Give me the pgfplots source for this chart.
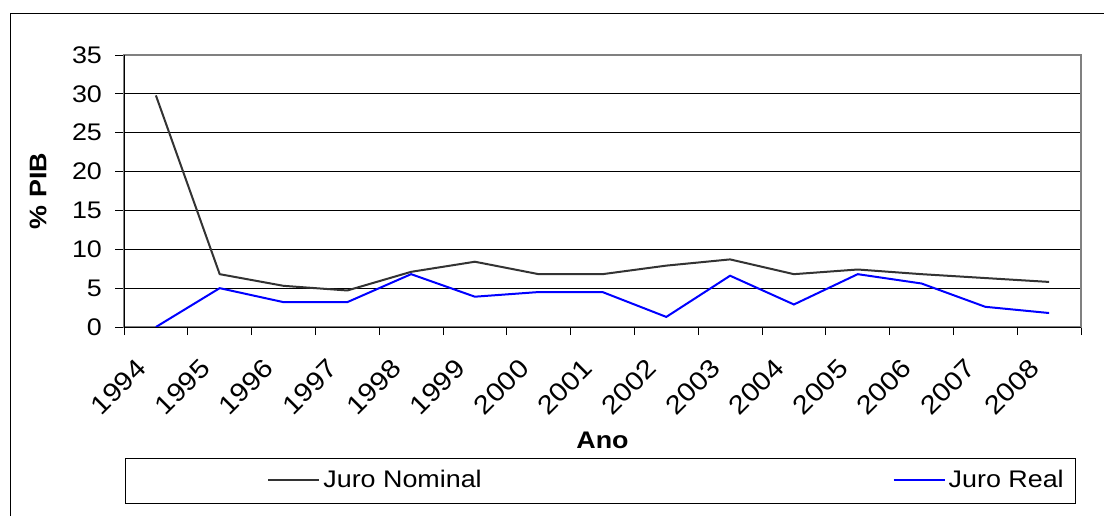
\documentclass[border=0pt]{standalone}
\usepackage{fontspec}
\setmainfont{Liberation Sans}[FakeStretch=1.12]
\usepackage{pgfplots}
\pgfplotsset{compat=1.18}

\definecolor{nomgray}{RGB}{51,51,51}
\definecolor{realblue}{RGB}{0,0,255}
\definecolor{framegray}{RGB}{128,128,128}

\begin{document}
\begin{tikzpicture}
% picture is laid out on a 1104x516 px grid, 1px = 0.5pt, origin at top left
\path[use as bounding box] (0,0) rectangle (552pt,-258pt);
\draw[black, line width=0.5pt] (5pt,-258pt) -- (5pt,-6.5pt) -- (552pt,-6.5pt);
% legend frame
\draw[black, line width=0.5pt] (62.5pt,-229pt) rectangle (537.5pt,-251.5pt);

\begin{axis}[
    at={(62pt,-163.5pt)}, anchor=south west,
    scale only axis,
    width=478.5pt, height=136pt,
    xmin=-0.5, xmax=14.5,
    ymin=0, ymax=35,
    xtick={0,...,14},
    xticklabels={1994,1995,1996,1997,1998,1999,2000,2001,2002,2003,2004,2005,2006,2007,2008},
    minor xtick={-0.5,0.5,...,14.5},
    ytick={0,5,...,35},
    xtick pos=bottom, ytick pos=left,
    tick align=outside,
    major tick length=4.5pt,
    minor tick length=4pt,
    major x tick style={draw=none},
    minor x tick style={black, line width=0.5pt},
    ytick style={black, line width=0.5pt},
    ymajorgrids,
    major grid style={black, line width=0.5pt},
    axis line style={framegray, line width=0.7pt},
    tick label style={font=\fontsize{12}{14}\selectfont},
    /pgf/number format/assume math mode=true,
    yticklabel style={xshift=-3pt},
    % shift first (page frame), then turn the label
    xticklabel style={xshift=-10.5pt, yshift=-9pt, rotate=45, anchor=north east,
        inner sep=1pt, font=\fontsize{13}{15}\selectfont},
    every axis y label/.style={at={(axis description cs:0,0.5)}, xshift=-43pt,
        rotate=90, anchor=center, font=\fontsize{12}{14}\selectfont\bfseries},
    every axis x label/.style={at={(axis description cs:0.5,0)}, yshift=-56.5pt,
        anchor=center, font=\fontsize{12}{14}\selectfont\bfseries},
    xlabel={Ano},
    ylabel={\% PIB},
    legend columns=2,
    legend style={draw=none, fill=none, at={(axis description cs:0.1494,-0.5625)},
        anchor=west, inner xsep=0pt, inner ysep=0pt,
        font=\fontsize{12}{14}\selectfont,
        nodes={inner xsep=1.5pt},
        /tikz/every even column/.append style={column sep=204pt}},
    legend image code/.code={\draw[#1] (0pt,0pt) -- (25.5pt,0pt);},
]
\addplot[nomgray, line width=1pt] coordinates {
    (0,29.8) (1,6.8) (2,5.3) (3,4.7) (4,7.1) (5,8.4) (6,6.8) (7,6.8)
    (8,7.9) (9,8.7) (10,6.8) (11,7.4) (12,6.8) (13,6.3) (14,5.8)
};
\addlegendentry{Juro Nominal}
\addplot[realblue, line width=1pt] coordinates {
    (0,0) (1,5.0) (2,3.2) (3,3.2) (4,6.8) (5,3.9) (6,4.5) (7,4.5)
    (8,1.3) (9,6.6) (10,2.9) (11,6.8) (12,5.6) (13,2.6) (14,1.8)
};
\addlegendentry{Juro Real}
% left and bottom axis lines are black in the original
\draw[black, line width=0.5pt] (axis cs:-0.5,35) -- (axis cs:-0.5,0) -- (axis cs:14.5,0);
\end{axis}
\end{tikzpicture}
\end{document}
